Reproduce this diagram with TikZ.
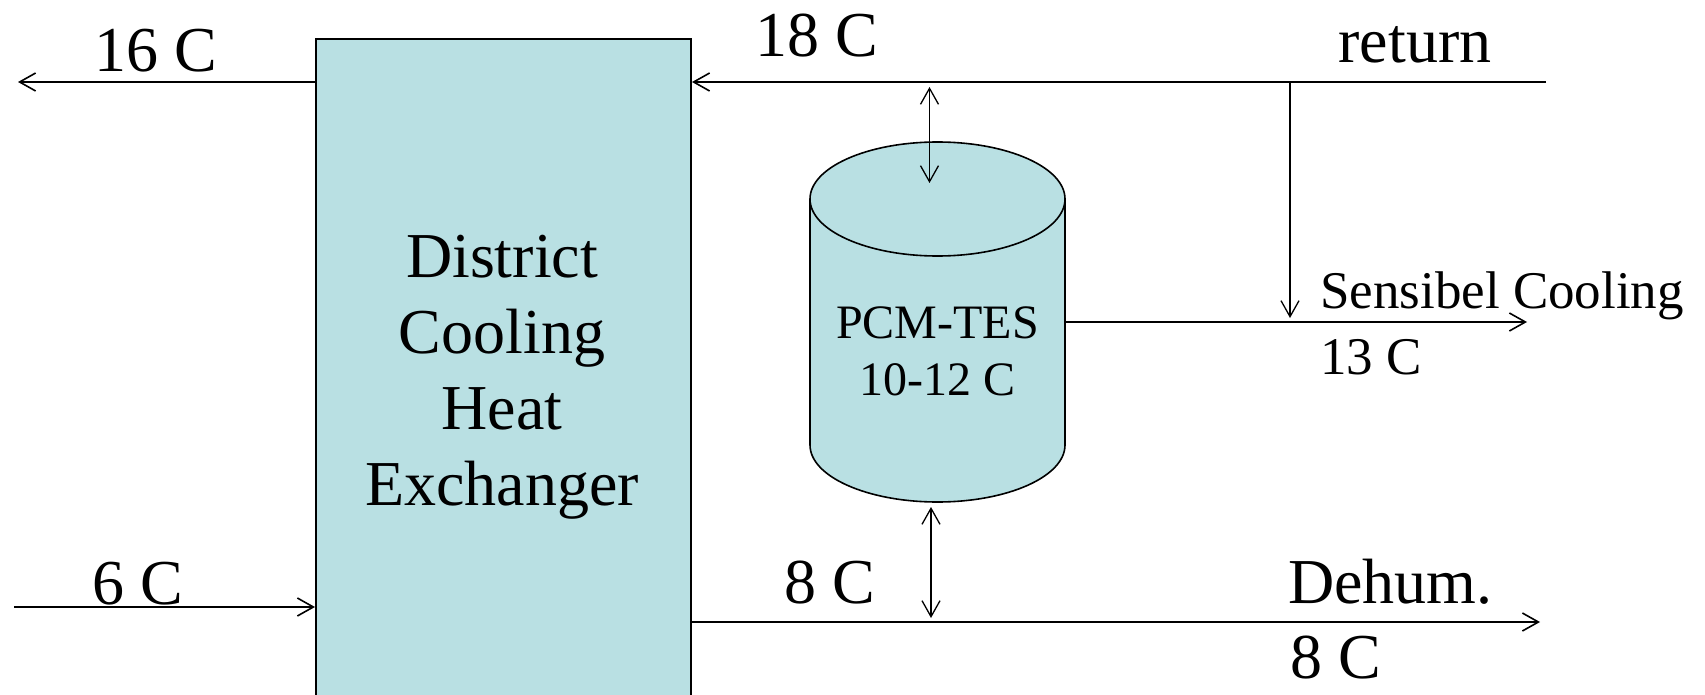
\documentclass[tikz,border=0pt]{standalone}
\usepackage{fontspec}
\setmainfont{Liberation Serif}
\usetikzlibrary{arrows.meta}
\definecolor{pcmblue}{RGB}{185,224,227}
\tikzset{
  arr/.style={line width=2pt,-{Straight Barb[length=16pt,width=18pt,line width=1.6pt]}},
  darr/.style={line width=1.3pt,{Straight Barb[length=16pt,width=18pt,line width=1.3pt]}-{Straight Barb[length=16pt,width=18pt,line width=1.3pt]}},
  tarr/.style={line width=1.3pt,-{Straight Barb[length=16pt,width=18pt,line width=1.3pt]}},
  big/.style={inner sep=0pt,font=\fontsize{64}{76}\selectfont},
  mid/.style={inner sep=0pt,font=\fontsize{53}{60}\selectfont},
  small/.style={inner sep=0pt,font=\fontsize{48}{57}\selectfont},
}
\begin{document}
\begin{tikzpicture}[x=1pt,y=-1pt]
\useasboundingbox (0,0) rectangle (1705,695);
\clip (0,0) rectangle (1705,695);
% heat exchanger box
\node[draw,line width=2pt,fill=pcmblue,rectangle,anchor=north west,minimum width=375pt,minimum height=720pt,inner sep=0pt] (hx) at (315,38) {};
\node[big,align=center,anchor=base] (hxlabel) at (502,505) {District\\Cooling\\Heat\\Exchanger};
% PCM-TES cylinder
\path[fill=pcmblue,draw=black,line width=1.6pt] (810,199) -- (810,445) arc (180:360:127.5pt and 57pt) -- (1065,199);
\draw[fill=pcmblue,line width=1.6pt] (937.5,199) ellipse [x radius=127.5pt, y radius=57pt];
\node[small,align=center,anchor=base] (tes) at (937.5,395) {PCM-TES\\10-12 C};
\coordinate (tesR) at (1065,322);
\coordinate (tesTopIn) at (929.5,183);
\coordinate (tesBotOut) at (931,507);
% coordinates of free ends
\coordinate (retR) at (1546,82);
\coordinate (outL) at (18,82);
\coordinate (inL) at (14,607);
\coordinate (dehumR) at (1540,622);
\coordinate (tap) at (1290,82);
\coordinate (tapEnd) at (1290,318);
\coordinate (sensR) at (1527,322);
\coordinate (topLine) at (929.5,87);
\coordinate (botLine) at (931,618);
% connectors
\draw[arr] (retR) -- (retR -| hx.east);
\draw[arr] (hx.west |- outL) -- (outL);
\draw[arr] (inL) -- (inL -| hx.west);
\draw[arr] (hx.east |- dehumR) -- (dehumR);
\draw[tarr] (tap) -- (tapEnd);
\draw[arr] (tesR) -- (sensR);
\draw[darr] (topLine) -- (tesTopIn);
\draw[darr] (tesBotOut) -- (botLine);
% labels
\node[big,anchor=base] (l16) at (156,72) {16 C};
\node[big,anchor=base] (l18) at (817,57) {18 C};
\node[big,anchor=base] (lret) at (1415,63) {return};
\node[mid,anchor=base west] (lsens) at (1320,308) {Sensibel Cooling};
\node[mid,anchor=base west] (l13) at (1320,374) {13 C};
\node[big,anchor=base] (l6) at (138,604) {6 C};
\node[big,anchor=base] (l8a) at (830,603) {8 C};
\node[big,anchor=base west] (ldeh) at (1288,603) {Dehum.};
\node[big,anchor=base west] (l8b) at (1290,678) {8 C};
\end{tikzpicture}
\end{document}
